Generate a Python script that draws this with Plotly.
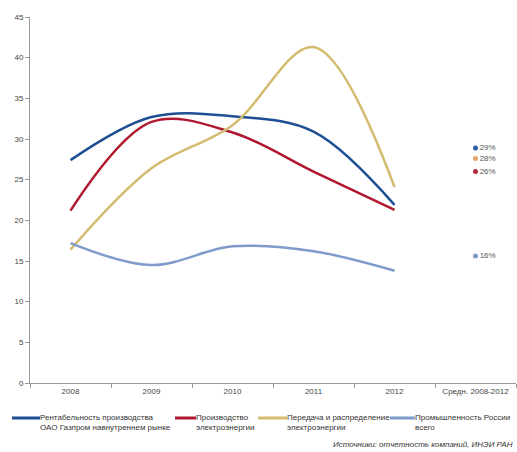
import plotly.graph_objects as go

categories = ["2008", "2009", "2010", "2011", "2012", "Средн. 2008-2012"]
years = categories[:5]

series_names = [
    "Рентабельность производства<br>ОАО Газпром навнутреннем рынке",
    "Производство<br>электроэнергии",
    "Передача и распределение<br>электроэнергии",
    "Промышленность России<br>всего",
]
gazprom = [27.4, 32.7, 32.8, 30.9, 21.9]
generation = [21.2, 32.1, 30.8, 26.0, 21.3]
transmission = [16.4, 26.4, 31.7, 41.3, 24.1]
industry = [17.2, 14.5, 16.8, 16.2, 13.8]

# 2008-2012 averages, same series order
avg_values = [28.9, 26.0, 27.6, 15.6]
avg_labels = ["29%", "26%", "28%", "16%"]

line_colors = ["#1f4f93", "#b01831", "#d3bb70", "#7f9bc9"]
dot_colors = ["#2c5ea8", "#b02a3c", "#e9a468", "#7f9bc4"]

W, H = 517, 452
ML, MR, MT, MB = 30, 1, 17, 69
PW, PH = W - ML - MR, H - MT - MB


def px(x):
    return (x - ML) / PW


def py(y):
    return (H - MB - y) / PH


fig = go.Figure()

for name, vals, col in zip(series_names, [gazprom, generation, transmission, industry], line_colors):
    fig.add_trace(go.Scatter(
        x=years, y=vals, name=name, mode="lines",
        line=dict(color=col, width=2.5, shape="spline", smoothing=1),
        showlegend=False,
    ))

# period averages shown as dots in the last category
for val, lab, col in zip(avg_values, avg_labels, dot_colors):
    fig.add_trace(go.Scatter(
        x=[categories[5]], y=[val], mode="markers+text",
        marker=dict(color=col, size=5),
        text=[lab], textposition="middle right",
        textfont=dict(size=8, color="#555555"),
        showlegend=False, hoverinfo="skip",
    ))

# legend row below the axis
legend_x = [12, 175, 258, 390]
legend_len = [28, 21, 29, 25]
shapes = []
annotations = []
for name, col, lx, ll in zip(series_names, line_colors, legend_x, legend_len):
    shapes.append(dict(
        type="line", xref="paper", yref="paper",
        x0=px(lx), x1=px(lx + ll), y0=py(418), y1=py(418),
        line=dict(color=col, width=3),
    ))
    annotations.append(dict(
        text=name, xref="paper", yref="paper", x=px(lx + ll), y=py(411),
        xanchor="left", yanchor="top", align="left", showarrow=False,
        font=dict(size=8, color="#333333"), xshift=-2,
    ))

annotations.append(dict(
    text="<i>Источники: отчетность компаний, ИНЭИ РАН</i>",
    xref="paper", yref="paper", x=px(515), y=py(444),
    xanchor="right", yanchor="middle",
    showarrow=False, font=dict(size=8, color="#333333"),
))

fig.update_layout(
    width=W, height=H,
    margin=dict(l=ML, r=MR, t=MT, b=MB, autoexpand=False),
    paper_bgcolor="white", plot_bgcolor="white",
    font=dict(family="Liberation Sans, Arial, sans-serif", size=8, color="#444444"),
    showlegend=False,
    xaxis=dict(
        type="category", categoryorder="array", categoryarray=categories,
        range=[-0.5, 5.5], tickson="boundaries", ticks="outside", ticklen=4,
        tickcolor="#999999", showline=True, linecolor="#999999", linewidth=1,
        showgrid=False, tickfont=dict(size=8, color="#444444"), zeroline=False,
    ),
    yaxis=dict(
        range=[0, 45], dtick=5, ticks="outside", ticklen=4, tickcolor="#999999",
        showline=True, linecolor="#999999", linewidth=1, showgrid=False,
        zeroline=False, tickfont=dict(size=8, color="#444444"),
    ),
    shapes=shapes,
    annotations=annotations,
)

fig.write_html("out.html")
